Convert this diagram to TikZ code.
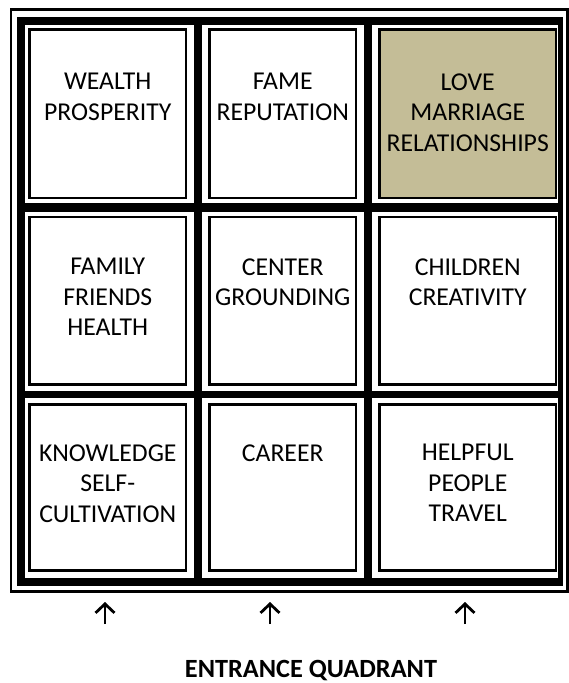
\documentclass[tikz,border=0pt]{standalone}
\usepackage{fontspec}
\setmainfont{Carlito}
\usetikzlibrary{arrows.meta}
\usetikzlibrary{positioning}
\definecolor{tan}{HTML}{C4BD97}
\tikzset{cellbox/.style = {draw, line width = 2.7pt, inner sep = 0, minimum size = 0}}
\tikzset{celltext/.style = {align = center, inner sep = 0, font = \fontsize{25.7}{30.5}\selectfont}}
\tikzset{entry/.style = {line width = 2.8pt, -{Straight Barb[length = 9pt, width = 19pt]}}}

\begin{document}
\begin{tikzpicture}[x=1pt, y=-1pt]
      \useasboundingbox (0,0) rectangle (569,683);

      % outer thin line and thick frame
      \draw [line width = 2.5pt] (11, 9.5) rectangle (567.5, 591.5);
      \fill (17, 17) rectangle (563, 586);
      \foreach \xa/\xb in {25/194, 202/364, 372/558}
        \foreach \ya/\yb in {25/203, 212/391, 398/578}
          \fill [white] (\xa, \ya) rectangle (\xb, \yb);

      \node [cellbox, minimum width = 156.5, minimum height = 168.5] at (107.75, 113.75) (wealth) {};
      \node [cellbox, minimum width = 146.5, minimum height = 168.5] at (282.75, 113.75) (fame) {};
      \node [cellbox, fill = tan, minimum width = 176.5, minimum height = 168.5] at (467.75, 113.75) (love) {};
      \node [cellbox, minimum width = 156.5, minimum height = 167.5] at (107.75, 300.75) (family) {};
      \node [cellbox, minimum width = 146.5, minimum height = 167.5] at (282.75, 300.75) (center) {};
      \node [cellbox, minimum width = 176.5, minimum height = 167.5] at (467.75, 300.75) (children) {};
      \node [cellbox, minimum width = 156.5, minimum height = 166] at (107.75, 487.5) (knowledge) {};
      \node [cellbox, minimum width = 146.5, minimum height = 166] at (282.75, 487.5) (career) {};
      \node [cellbox, minimum width = 176.5, minimum height = 166] at (467.75, 487.5) (helpful) {};

      \node [celltext, below = 45pt of wealth.north] (wealthtext) {WEALTH\\PROSPERITY};
      \node [celltext, below = 45pt of fame.north] (fametext) {FAME\\REPUTATION};
      \node [celltext, below = 45pt of love.north] (lovetext) {LOVE\\MARRIAGE\\RELATIONSHIPS};
      \node [celltext, below = 42.5pt of family.north] (familytext) {FAMILY\\FRIENDS\\HEALTH};
      \node [celltext, below = 42.5pt of center.north] (centertext) {CENTER\\GROUNDING};
      \node [celltext, below = 42.5pt of children.north] (childrentext) {CHILDREN\\CREATIVITY};
      \node [celltext, below = 41pt of knowledge.north] (knowledgetext) {KNOWLEDGE\\SELF-\\CULTIVATION};
      \node [celltext, below = 41pt of career.north] (careertext) {CAREER};
      \node [celltext, below = 41pt of helpful.north] (helpfultext) {HELPFUL\\PEOPLE\\TRAVEL};

      \coordinate (arrowAfoot) at (105, 624);
      \coordinate (arrowAtip) at (105, 602);
      \coordinate (arrowBfoot) at (270, 624);
      \coordinate (arrowBtip) at (270, 602);
      \coordinate (arrowCfoot) at (465, 624);
      \coordinate (arrowCtip) at (465, 602);
      \draw [entry] (arrowAfoot) -- (arrowAtip);
      \draw [entry] (arrowBfoot) -- (arrowBtip);
      \draw [entry] (arrowCfoot) -- (arrowCtip);

      \node [anchor = base, inner sep = 0, font = \fontsize{26.3}{30}\selectfont\bfseries] at (311, 677) (entrance) {ENTRANCE QUADRANT};
    \end{tikzpicture}
\end{document}
